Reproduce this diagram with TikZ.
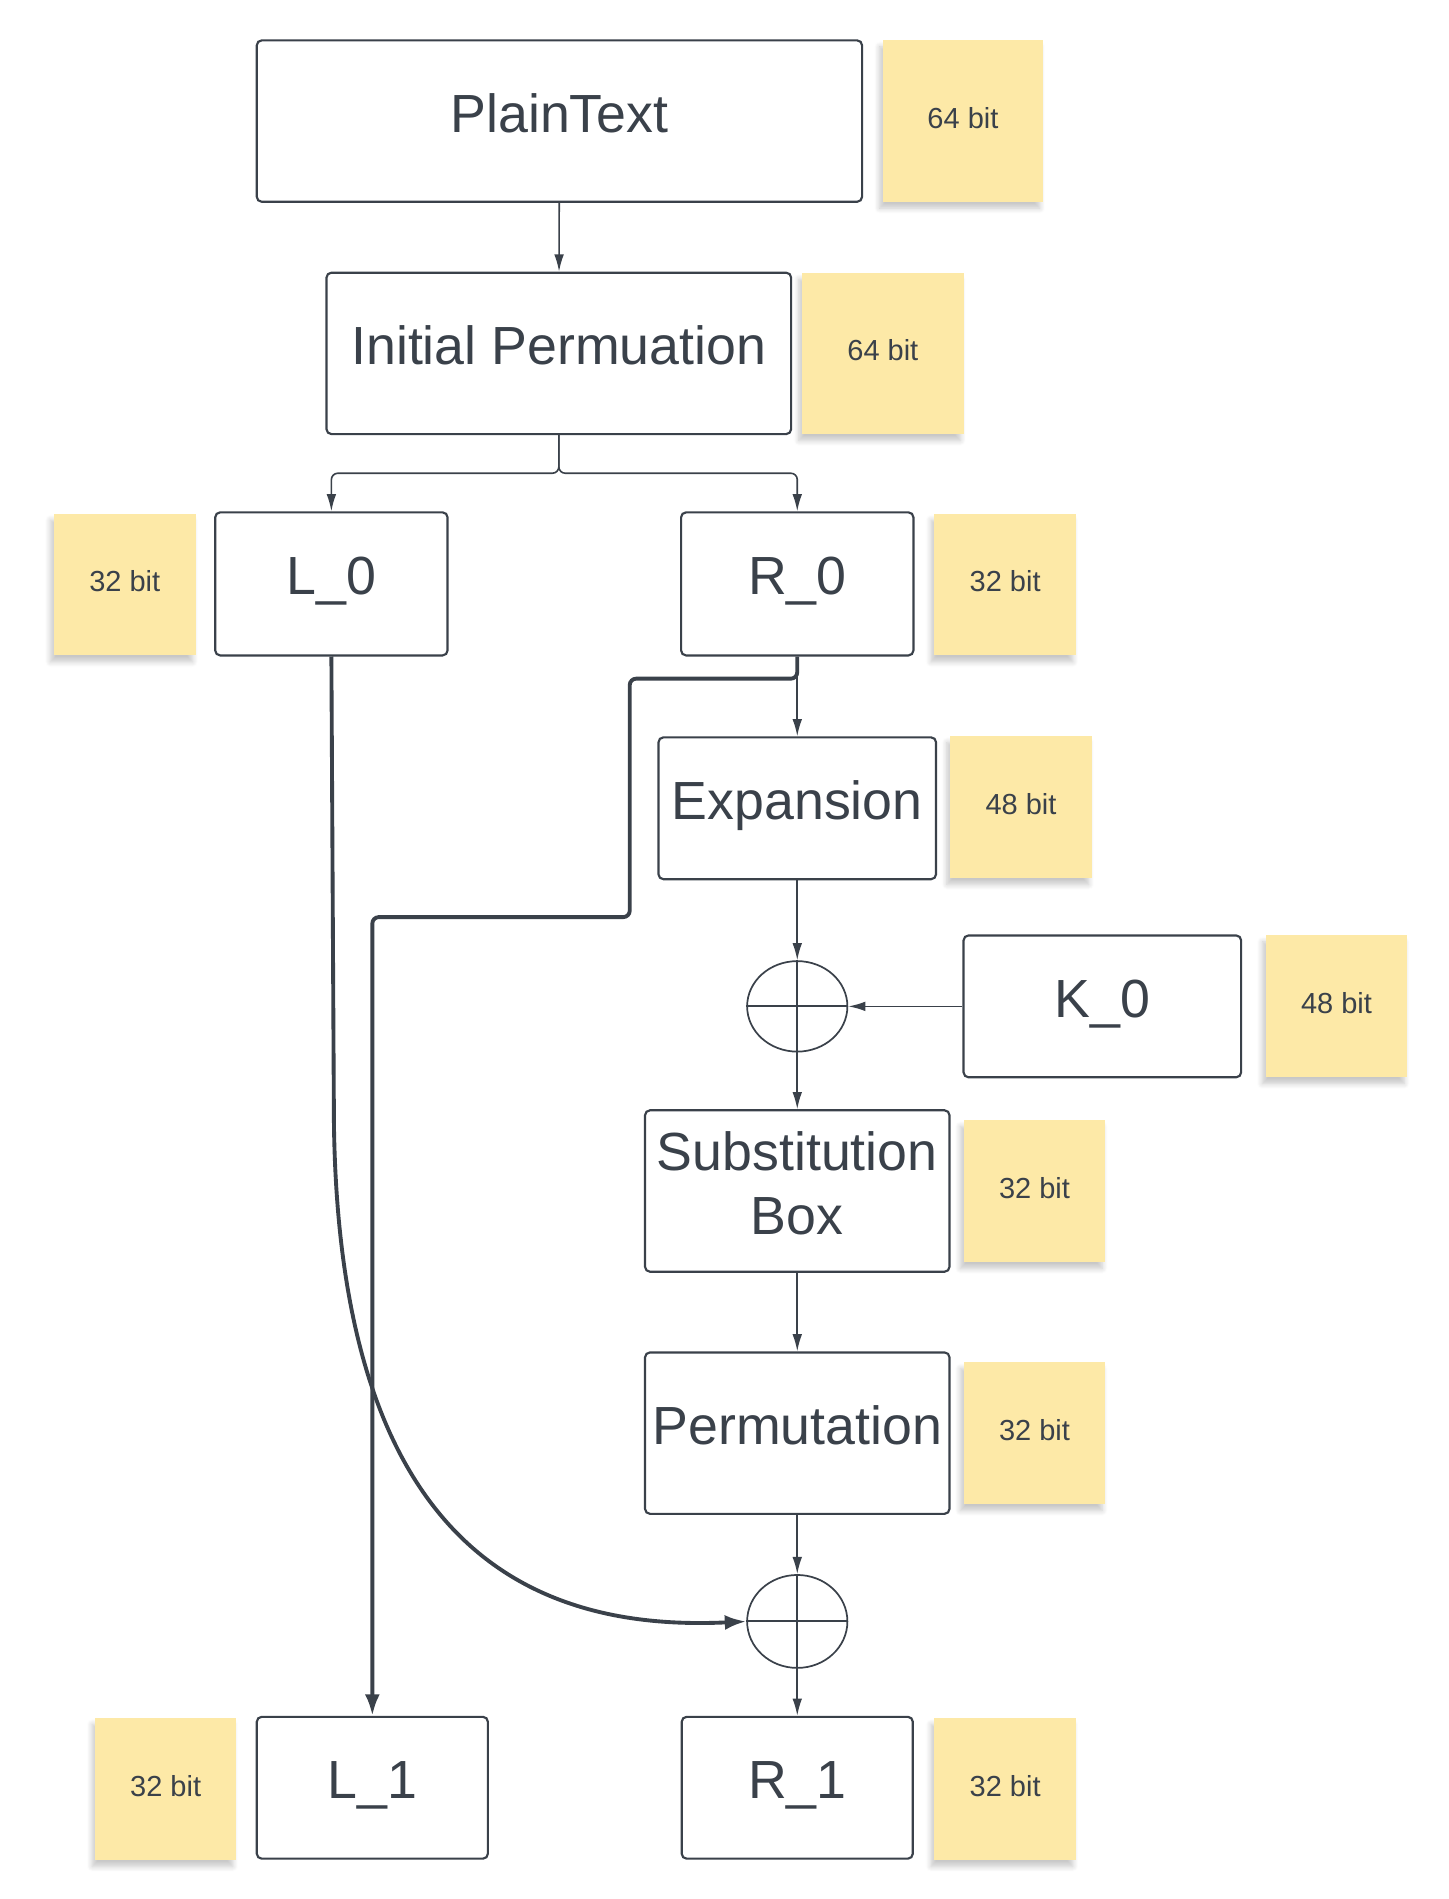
\documentclass[tikz,border=0pt]{standalone}
\usepackage{fontspec}
\setmainfont{Liberation Sans}
\usetikzlibrary{arrows.meta,shapes.geometric,shadows.blur}
\definecolor{tinta}{HTML}{3A414A}
\definecolor{amarillo}{HTML}{FDE9A7}

\begin{document}
\begin{tikzpicture}[x=0.02cm, y=-0.02cm,
    tam/.style 2 args={minimum width=#1*0.02cm, minimum height=#2*0.02cm},
    caja/.style={draw=tinta, fill=white, line width=1pt, rounded corners=2.3pt,
        inner sep=0pt, text=tinta, font=\fontsize{25}{29.5}\selectfont, text depth=7.4pt},
    nota/.style={fill=amarillo, inner sep=0pt, text=tinta,
        font=\fontsize{13.5}{16}\selectfont, text depth=3pt,
        blur shadow={shadow blur steps=6, shadow xshift=-1.5pt, shadow yshift=-3pt,
            shadow blur radius=2.5pt, shadow opacity=22}},
    xor/.style={draw=tinta, ellipse, line width=0.8pt, inner sep=0pt},
    flecha/.style={draw=tinta, line width=0.75pt, -{Latex[length=8pt,width=4.5pt]}},
    gruesa/.style={draw=tinta, line width=1.8pt, -{Latex[length=10pt,width=7pt]}}]

    \useasboundingbox (0,0) rectangle (1185,1553);

    % Notas con el numero de bits
    \foreach \nx/\ny/\nw/\nh/\nt [count=\i] in {787.5/99/131/132/64 bit, 722/289/132/132/64 bit,
            102/478/116/116/32 bit, 822/478/116/116/32 bit, 835/660/116/116/48 bit,
            1093/823/116/116/48 bit, 846/974/116/116/32 bit, 846/1172/116/116/32 bit,
            135.5/1463/115/116/32 bit, 822/1463/116/116/32 bit}
        \node[nota, tam={\nw}{\nh}] (n\i) at (\nx,\ny) {\nt};

    % Cajas
    \node[caja, tam={495}{132}] (plano) at (457.5,99) {PlainText};
    \node[caja, tam={380}{132}] (ip) at (457,289) {Initial Permuation};
    \node[caja, tam={190}{117}] (l0) at (271,477.5) {L\_0};
    \node[caja, tam={190}{117}] (r0) at (652,477.5) {R\_0};
    \node[caja, tam={227}{116}] (exp) at (652,661) {Expansion};
    \node[caja, tam={227}{116}] (k0) at (901.5,823) {K\_0};
    \node[caja, tam={249}{132}, align=center] (sbox) at (652,974) {Substitution\\Box};
    \node[caja, tam={249}{132}] (perm) at (652,1172) {Permutation};
    \node[caja, tam={189}{116}] (l1) at (304.5,1462) {L\_1};
    \node[caja, tam={189}{116}] (r1) at (652,1462) {R\_1};

    % XOR
    \node[xor, tam={82}{74}] (x1) at (652,823) {};
    \node[xor, tam={82}{76}] (x2) at (652,1326) {};
    \foreach \n in {x1,x2}
        \draw[tinta, line width=0.9pt] (\n.north) -- (\n.south) (\n.west) -- (\n.east);

    % Puntos de paso
    \coordinate (div) at (457,387);
    \coordinate (c1) at (515,555);
    \coordinate (c2) at (515,750);
    \coordinate (c3) at (273,900);

    % Flechas finas
    \draw[flecha] (plano) -- (ip);
    \draw[flecha, rounded corners=3pt] (ip.south) -- (div) -| (l0.north);
    \draw[flecha, rounded corners=3pt] (ip.south) -- (div) -| (r0.north);
    \draw[flecha] (r0) -- (exp);
    \draw[flecha] (exp) -- (x1);
    \draw[flecha] (k0) -- (x1);
    \draw[flecha] (x1) -- (sbox);
    \draw[flecha] (sbox) -- (perm);
    \draw[flecha] (perm) -- (x2);
    \draw[flecha] (x2) -- (r1);

    % Flechas gruesas
    \draw[gruesa, rounded corners=3pt] (r0.south) |- (c1) -- (c2) -| (l1.north);
    \draw[gruesa] (l0.south) -- (c3) .. controls (272,1250) and (420,1335) .. (x2.west);

\end{tikzpicture}
\end{document}
